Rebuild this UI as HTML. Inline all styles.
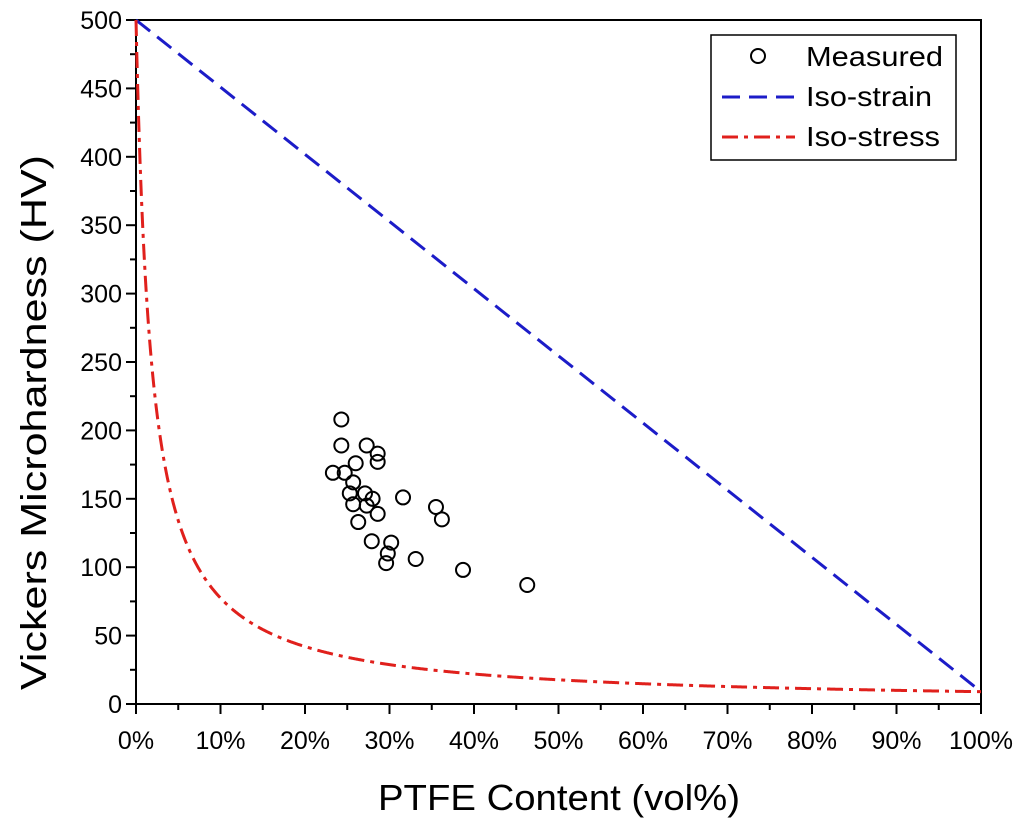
<!DOCTYPE html>
<html><head><meta charset="utf-8"><style>
body{margin:0;background:#fff;}
svg text{font-family:"Liberation Sans",Arial,sans-serif;}
</style></head><body>
<svg id="chart" width="1024" height="829" xmlns="http://www.w3.org/2000/svg">
<g id="axes"></g>
<g id="series"></g>
<g id="legend"></g>
</svg>
<script>
const measuredX=[24.3,24.3,27.3,28.6,28.6,26.0,23.3,24.7,25.7,25.3,27.1,28.0,31.6,25.7,27.3,28.6,35.5,36.2,26.3,27.9,30.2,29.8,29.6,33.1,38.7,46.3];
const measuredY=[208,189,189,183,177,176,169,169,162,154,154,150,151,146,145,139,144,135,133,119,118,110,103,106,98,87];
const xTicks=[0,10,20,30,40,50,60,70,80,90,100];
const yTicks=[0,50,100,150,200,250,300,350,400,450,500];
const hvMatrix=[500];
const hvPTFE=[9];
const NS="http://www.w3.org/2000/svg";
const X0=136,X1=981,Y0=704,Y1=20;
const sx=v=>X0+(X1-X0)*v/100;
const sy=v=>Y0-(Y0-Y1)*v/500;
function mk(tag,attrs,parent,txt){const e=document.createElementNS(NS,tag);for(const k in attrs)e.setAttribute(k,attrs[k]);if(txt!==undefined)e.textContent=txt;parent.appendChild(e);return e;}
const ax=document.getElementById('axes'),se=document.getElementById('series'),lg=document.getElementById('legend');
let fr=mk('rect',{x:X0,y:Y1,width:X1-X0,height:Y0-Y1,fill:'none',stroke:'#000','stroke-width':2},ax);


xTicks.forEach((t,i)=>{
  let l=mk('line',{x1:sx(t),x2:sx(t),y1:Y0,y2:Y0+10,stroke:'#000','stroke-width':2},ax);
  
  
  if(i<xTicks.length-1){let m=mk('line',{x1:sx(t+5),x2:sx(t+5),y1:Y0,y2:Y0+6,stroke:'#000','stroke-width':2},ax);
  
  }
  let tx=mk('text',{x:sx(t),y:Y0+45,'text-anchor':'middle','font-size':25},ax,t+'%');
  
  
});
yTicks.forEach((t,i)=>{
  let l=mk('line',{x1:X0-10,x2:X0,y1:sy(t),y2:sy(t),stroke:'#000','stroke-width':2},ax);
  
  
  if(i<yTicks.length-1){let m=mk('line',{x1:X0-6,x2:X0,y1:sy(t+25),y2:sy(t+25),stroke:'#000','stroke-width':2},ax);
  
  }
  let tx=mk('text',{x:X0-14,y:sy(t)+9,'text-anchor':'end','font-size':25},ax,t);
  
  
});
let xt=mk('text',{x:378,y:810,'font-size':36,textLength:362,lengthAdjust:'spacingAndGlyphs'},ax,'PTFE Content (vol%)');


let yt=mk('text',{x:0,y:0,'font-size':36,textLength:535,lengthAdjust:'spacingAndGlyphs',transform:'translate(46,690) rotate(-90)'},ax,'Vickers Microhardness (HV)');


const Hm=hvMatrix[0],Hp=hvPTFE[0];
let p1=mk('line',{x1:sx(0),y1:sy(Hm),x2:sx(100),y2:sy(Hp),stroke:'#1c1cc8','stroke-width':3,'stroke-dasharray':'18,9'},se);


let d='';
for(let i=0;i<=1000;i++){const f=i/1000;const h=1/((1-f)/Hm+f/Hp);d+=(i?'L':'M')+sx(f*100).toFixed(2)+','+sy(h).toFixed(2);}
let p2=mk('path',{d:d,fill:'none',stroke:'#e0201c','stroke-width':3,'stroke-dasharray':'16,6,4,6'},se);


measuredX.forEach((v,i)=>{
  let c=mk('circle',{cx:sx(v),cy:sy(measuredY[i]),r:7,fill:'none',stroke:'#000','stroke-width':2},se);
  
  
});
let lb=mk('rect',{x:711,y:35,width:245,height:125,fill:'#fff',stroke:'#000','stroke-width':1.5},lg);


let c=mk('circle',{cx:758,cy:56,r:7,fill:'none',stroke:'#000','stroke-width':2},lg);


let l1=mk('line',{x1:722,x2:795,y1:97,y2:97,stroke:'#1c1cc8','stroke-width':3,'stroke-dasharray':'18,9'},lg);


let l2=mk('line',{x1:722,x2:795,y1:137,y2:137,stroke:'#e0201c','stroke-width':3,'stroke-dasharray':'16,6,4,6'},lg);


[['Measured',66,137],['Iso-strain',106,126],['Iso-stress',146,134]].forEach(a=>{
  let t=mk('text',{x:806,y:a[1],'font-size':28,textLength:a[2],lengthAdjust:'spacingAndGlyphs'},lg,a[0]);
  
  
});
</script>
</body></html>
